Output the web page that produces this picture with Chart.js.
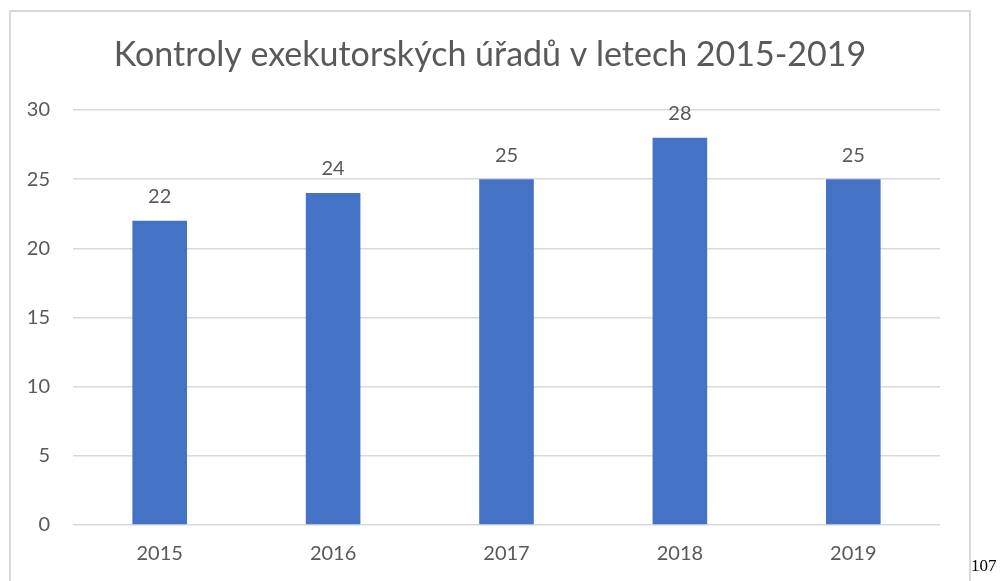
<!DOCTYPE html>
<html>
<head>
<meta charset="utf-8">
<script src="https://cdn.jsdelivr.net/npm/chart.js@4"></script>
<style>
  html, body { margin: 0; padding: 0; background: #fff; }
  #wrap { position: relative; width: 1002px; height: 581px; overflow: hidden; }
  #frame { position: absolute; left: 9px; top: 10px; width: 958px; height: 600px; border: 2px solid #d9d9d9; }
  #chart { position: absolute; left: 0; top: 0; }
  #pagenum { position: absolute; left: 971px; top: 556px; font-family: "Liberation Serif", serif; font-size: 17px; color: #000; }
</style>
</head>
<body>
<div id="wrap">
  <div id="frame"></div>
  <canvas id="chart" width="1002" height="581"></canvas>
  <span id="pagenum">107</span>
</div>
<script>
// Data
const years = ['2015', '2016', '2017', '2018', '2019'];
const inspections = [22, 24, 25, 28, 25];
const yTicks = [0, 5, 10, 15, 20, 25, 30];
const chartTitle = 'Kontroly exekutorských úřadů v letech 2015-2019';

const textColor = '#595959';
const fontFamily = 'Lato, "Open Sans", sans-serif';

// Title centred over the whole frame, not only the padded layout box
const frameTitle = {
  id: 'frameTitle',
  afterDraw(chart) {
    const ctx = chart.ctx;
    ctx.save();
    ctx.fillStyle = textColor;
    ctx.font = '34px ' + fontFamily;
    ctx.textAlign = 'center';
    ctx.textBaseline = 'middle';
    ctx.fillText(chartTitle, 490, 55);
    ctx.restore();
  }
};

// Value labels above bars
const barLabels = {
  id: 'barLabels',
  afterDatasetsDraw(chart) {
    const ctx = chart.ctx;
    const meta = chart.getDatasetMeta(0);
    ctx.save();
    ctx.fillStyle = textColor;
    ctx.font = '20px ' + fontFamily;
    ctx.textAlign = 'center';
    ctx.textBaseline = 'middle';
    meta.data.forEach((bar, i) => {
      ctx.fillText(chart.data.datasets[0].data[i], bar.x, bar.y - 24);
    });
    ctx.restore();
  }
};

new Chart(document.getElementById('chart'), {
  type: 'bar',
  data: {
    labels: years,
    datasets: [{
      data: inspections,
      backgroundColor: '#4472c4',
      categoryPercentage: 1,
      barPercentage: 0.315
    }]
  },
  options: {
    responsive: false,
    animation: false,
    layout: { padding: { top: 110, right: 62, bottom: 0, left: 0 } },
    plugins: {
      legend: { display: false },
      tooltip: { enabled: false },
      title: { display: false }
    },
    scales: {
      x: {
        grid: { display: false },
        border: { display: false },
        ticks: { color: textColor, font: { family: fontFamily, size: 20 }, padding: 9 },
        afterFit(scale) { scale.height = 56; }
      },
      y: {
        min: 0,
        max: 30,
        afterBuildTicks(scale) { scale.ticks = yTicks.map(v => ({ value: v })); },
        grid: { color: '#d9d9d9', lineWidth: 1.5, drawTicks: false },
        border: { display: false },
        ticks: { color: textColor, font: { family: fontFamily, size: 20 }, padding: 23 },
        afterFit(scale) { scale.width = 73; }
      }
    }
  },
  plugins: [barLabels, frameTitle]
});
</script>
</body>
</html>
